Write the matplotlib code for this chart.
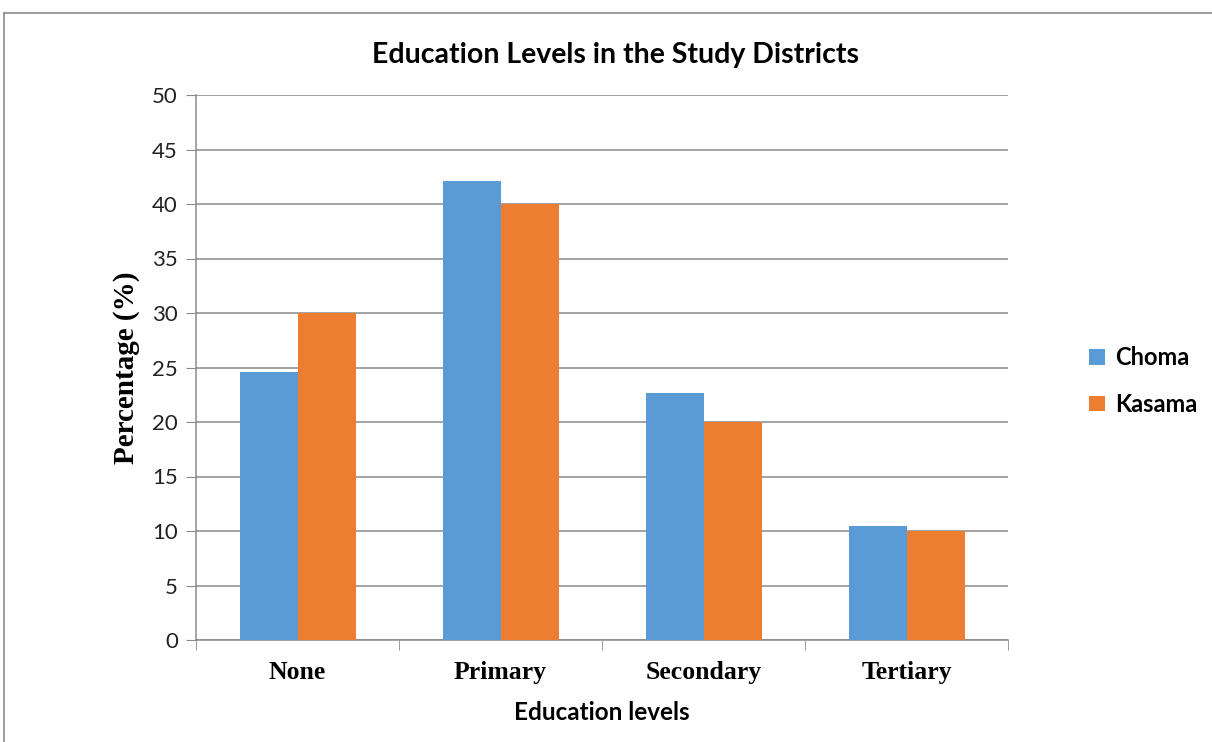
import matplotlib
matplotlib.use("Agg")
import matplotlib.pyplot as plt
from matplotlib.lines import Line2D
import numpy as np

categories = ["None", "Primary", "Secondary", "Tertiary"]
choma = [24.6, 42.1, 22.7, 10.5]
kasama = [30.0, 40.0, 20.0, 10.0]
series_names = ["Choma", "Kasama"]
yticks = list(range(0, 55, 5))

BLUE = "#5B9BD5"
ORANGE = "#ED7D31"
GRID = "#8A8A8A"

W, H = 1212, 742
fig = plt.figure(figsize=(W / 100, H / 100), dpi=100)
ax = fig.add_axes([196 / W, 1 - 640 / H, (1008 - 196) / W, (640 - 95) / H])

x = np.arange(len(categories))
bw = 1 / 3.5
ax.bar(x - bw / 2, choma, width=bw, color=BLUE, label=series_names[0], zorder=3)
ax.bar(x + bw / 2, kasama, width=bw, color=ORANGE, label=series_names[1], zorder=3)

ax.set_xlim(-0.5, len(categories) - 0.5)
ax.set_ylim(0, 50)
ax.set_yticks(yticks)
ax.set_yticklabels([str(v) for v in yticks], fontfamily="Lato", fontsize=16, color="#222222")
ax.yaxis.grid(True, color=GRID, linewidth=1.1, zorder=0)
ax.tick_params(axis="y", length=7, color=GRID, pad=6)

ax.set_xticks(x)
ax.set_xticklabels(categories, fontfamily="Liberation Serif", fontweight="bold", fontsize=18.5)
ax.set_xticks(np.arange(-0.5, len(categories), 1.0), minor=True)
ax.tick_params(axis="x", which="major", length=0, pad=15)
ax.tick_params(axis="x", which="minor", length=7, color=GRID)

for s in ["top", "right"]:
    ax.spines[s].set_visible(False)
for s in ["left", "bottom"]:
    ax.spines[s].set_color(GRID)
    ax.spines[s].set_linewidth(1.1)

ax.set_ylabel("Percentage (%)", fontfamily="Liberation Serif", fontweight="bold", fontsize=21, labelpad=9)
ax.set_xlabel("Education levels", fontfamily="Lato", fontweight="bold", fontsize=17.5, labelpad=12)

fig.text(615 / W, 1 - 55 / H, "Education Levels in the Study Districts", ha="center", va="center",
         fontfamily="Lato", fontweight="bold", fontsize=20.5)

leg = ax.legend(loc="center left", bbox_to_anchor=(1068 / W, 1 - 381 / H), bbox_transform=fig.transFigure,
                frameon=False, prop={"family": "Lato", "weight": "bold", "size": 17},
                handlelength=0.65, handleheight=0.65, handletextpad=0.45, labelspacing=1.0)

# outer chart frame
fig.add_artist(Line2D([4 / W, 1], [1 - 13 / H, 1 - 13 / H], transform=fig.transFigure, color="#8C8C8C", linewidth=1.2))
fig.add_artist(Line2D([4 / W, 4 / W], [0, 1 - 13 / H], transform=fig.transFigure, color="#8C8C8C", linewidth=1.2))

fig.savefig("out.png", dpi=100, facecolor="white")
